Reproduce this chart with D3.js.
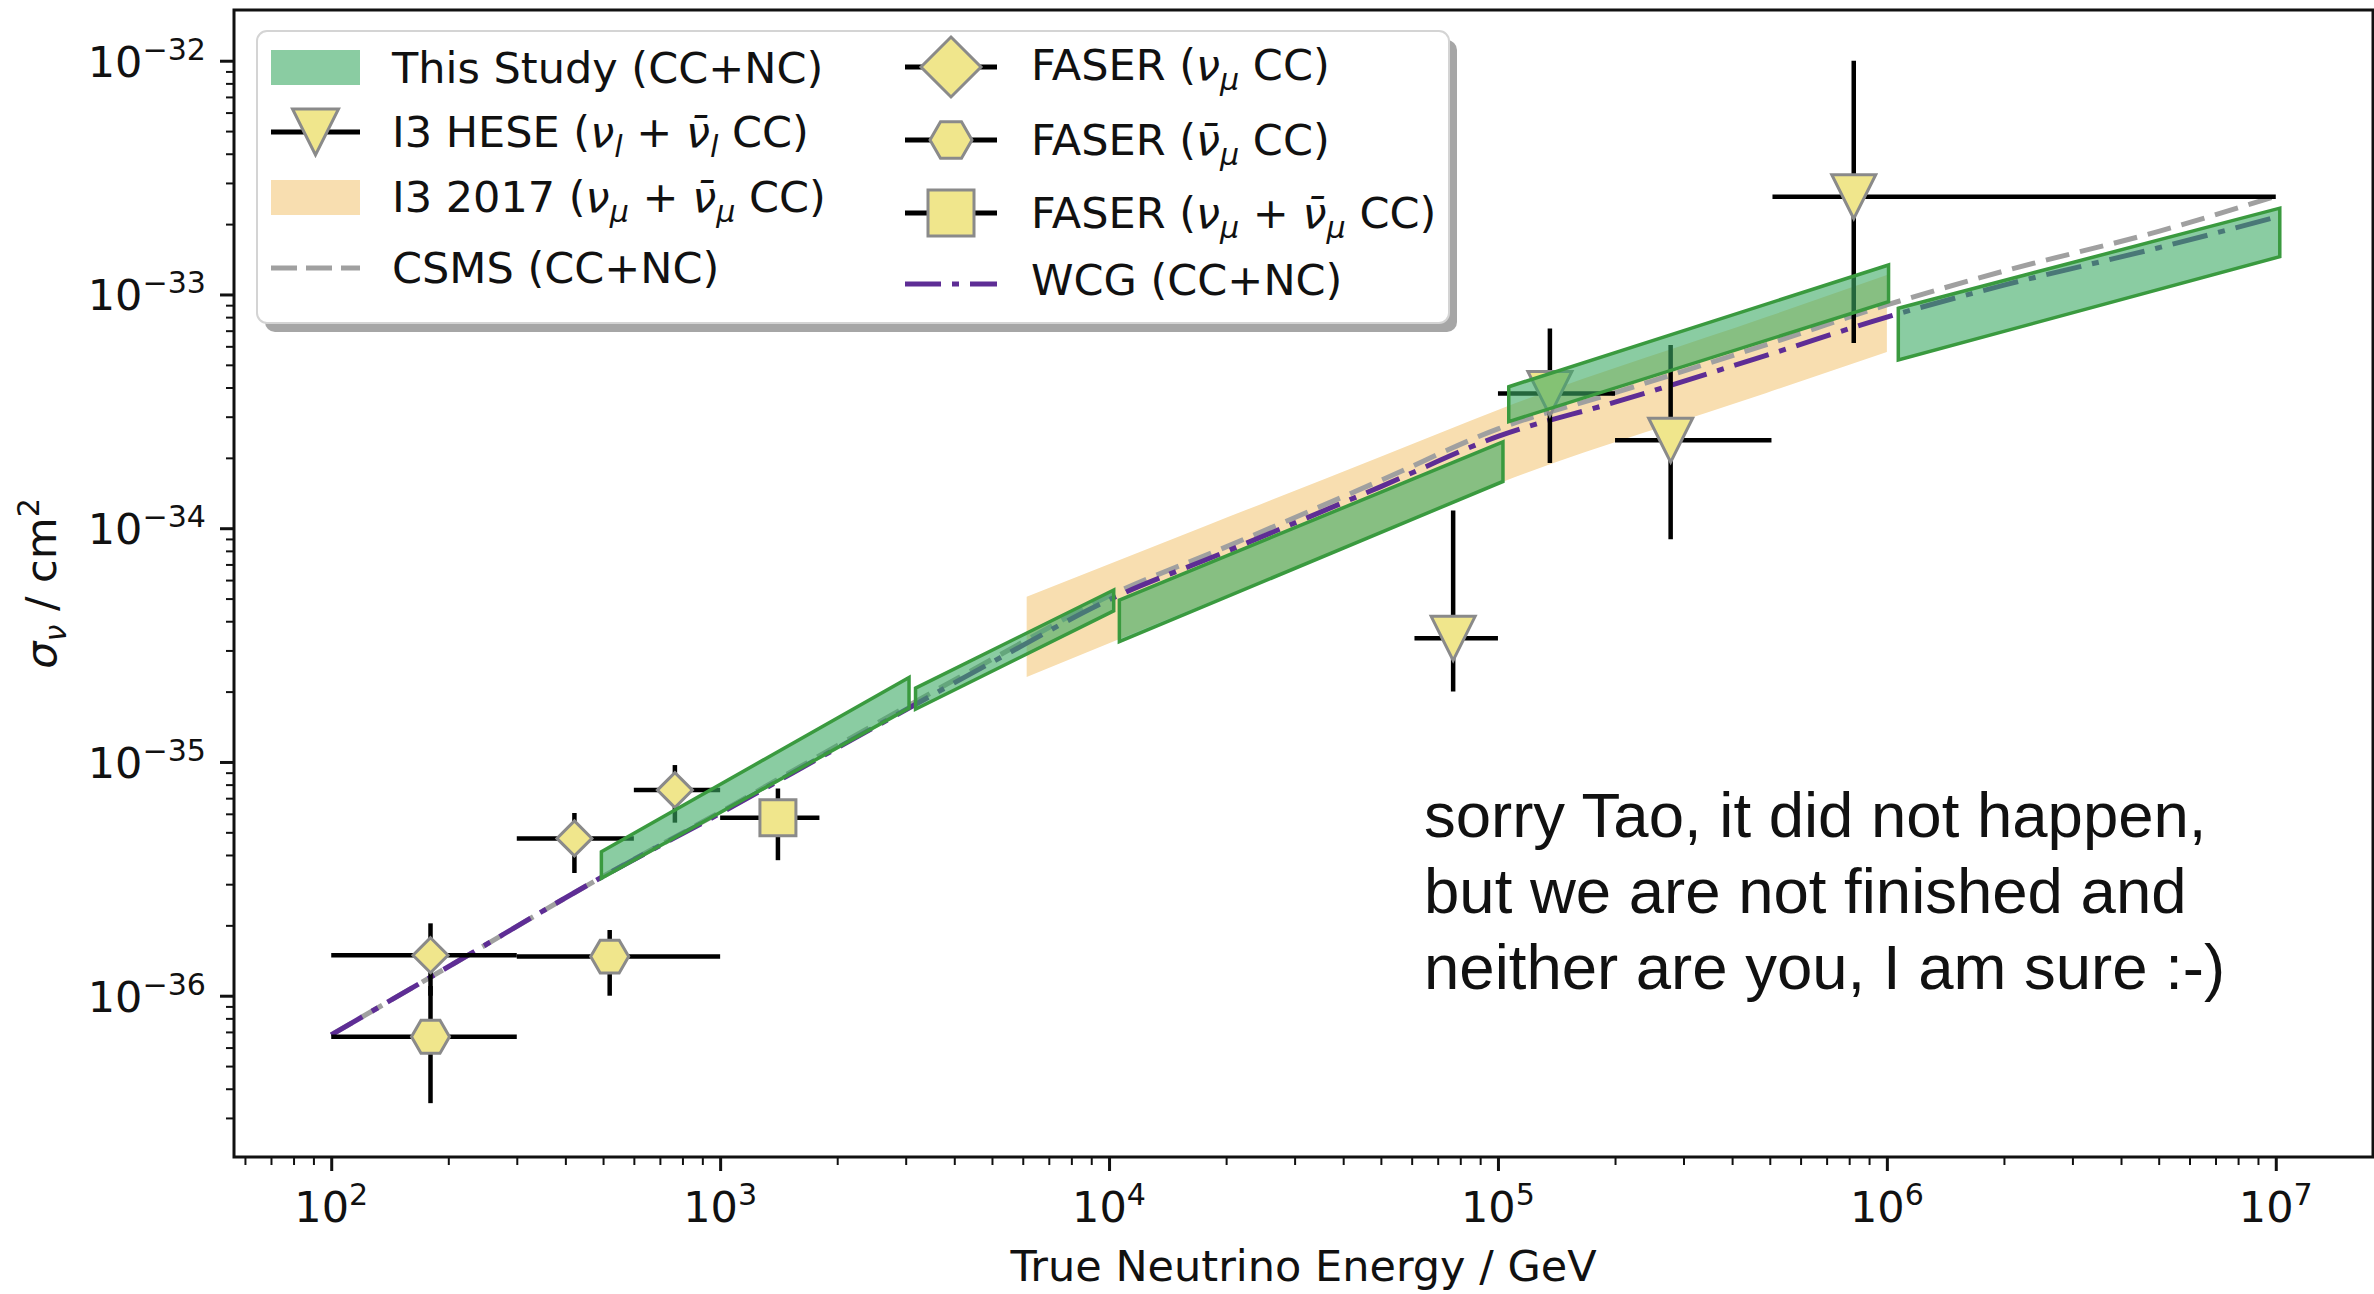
<!DOCTYPE html>
<html>
<head>
<meta charset="utf-8">
<script src="https://cdn.jsdelivr.net/npm/d3@7"></script>
<style>
  html, body { margin: 0; padding: 0; background: #fff; }
  svg { display: block; }
  text { font-family: "DejaVu Sans", sans-serif; fill: #111; }
</style>
</head>
<body>
<svg id="chart" width="2374" height="1294"></svg>
<script>
// ---------------- data ----------------
const xTickExponents = [2, 3, 4, 5, 6, 7];
const yTickExponents = [-36, -35, -34, -33, -32];

// This Study (CC+NC): one row per energy bin
// [E start, E end, sigma low @start, sigma high @start, sigma low @end, sigma high @end]
const studyBands = [
  [495,    3060,   3.18e-36, 4.13e-36, 1.70e-35, 2.30e-35],
  [3180,   10280,  1.68e-35, 2.07e-35, 4.43e-35, 5.44e-35],
  [10630,  1.03e5, 3.27e-35, 4.93e-35, 1.585e-34, 2.34e-34],
  [1.066e5, 1.01e6, 2.86e-34, 4.03e-34, 9.31e-34, 1.337e-33],
  [1.07e6, 1.024e7, 5.25e-34, 8.73e-34, 1.45e-33, 2.34e-33]
];

// IceCube 2017 (nu_mu + nubar_mu CC) band
const i3Energy = [6140, 17900, 49900, 1.03e5, 4.9e5, 1.0e6];
const i3Low    = [2.31e-35, 4.79e-35, 9.6e-35, 1.58e-34, 3.79e-34, 5.67e-34];
const i3High   = [5.09e-35, 1.03e-34, 2.02e-34, 3.27e-34, 8.0e-34, 1.21e-33];

// Model predictions
const modelEnergy = [100, 200, 500, 1e3, 2e3, 5e3, 1e4, 2e4, 5e4, 1e5, 2e5, 5e5, 1e6, 2e6, 5e6, 1e7];
const csmsSigma = [6.8e-37, 1.33e-36, 3.24e-36, 6.1e-36, 1.175e-35, 2.75e-35, 5.13e-35, 8.32e-35,
                   1.603e-34, 2.66e-34, 3.80e-34, 6.17e-34, 9.02e-34, 1.259e-33, 1.862e-33, 2.63e-33];
const wcgSigma  = [6.8e-37, 1.33e-36, 3.24e-36, 6.03e-36, 1.148e-35, 2.67e-35, 4.94e-35, 7.94e-35,
                   1.507e-34, 2.47e-34, 3.46e-34, 5.55e-34, 8.0e-34, 1.096e-33, 1.585e-33, 2.14e-33];

// IceCube HESE (nu_l + nubar_l CC)
const heseE     = [76700, 136000, 278000, 822000];
const heseELow  = [61000, 100000, 200000, 508000];
const heseEHigh = [100000, 200000, 505000, 1e7];
const heseSigma = [3.38e-35, 3.77e-34, 2.38e-34, 2.62e-33];
const heseLow   = [2.0e-35, 1.9e-34, 8.97e-35, 6.2e-34];
const heseHigh  = [1.19e-34, 7.16e-34, 6.08e-34, 1e-32];

// FASER (nu_mu CC)
const faserNuE     = [180, 422, 765];
const faserNuELow  = [100, 300, 600];
const faserNuEHigh = [300, 600, 1000];
const faserNuSigma = [1.49e-36, 4.71e-36, 7.58e-36];
const faserNuLow   = [1.0e-36, 3.35e-36, 5.5e-36];
const faserNuHigh  = [2.04e-36, 6.05e-36, 9.7e-36];

// FASER (nubar_mu CC)
const faserNubarE     = [180, 520];
const faserNubarELow  = [100, 300];
const faserNubarEHigh = [300, 1000];
const faserNubarSigma = [6.68e-37, 1.47e-36];
const faserNubarLow   = [3.47e-37, 1.0e-36];
const faserNubarHigh  = [1.1e-36, 1.91e-36];

// FASER (nu_mu + nubar_mu CC)
const faserSumE     = [1408];
const faserSumELow  = [1000];
const faserSumEHigh = [1800];
const faserSumSigma = [5.77e-36];
const faserSumLow   = [3.8e-36];
const faserSumHigh  = [7.7e-36];

const noteLines = [
  "sorry Tao, it did not happen,",
  "but we are not finished and",
  "neither are you, I am sure :-)"
];

// ---------------- styles ----------------
const C = {
  bandFill: "#3caa64", bandEdge: "#3a9a3f", i3: "#f8deb0",
  csms: "#a0a0a0", wcg: "#5e2d95", marker: "#f0e68c", markerEdge: "#8a8a8a"
};

const svg = d3.select("#chart");
const plot = { left: 234, right: 2373, top: 10, bottom: 1157 };

const x = d3.scaleLog().domain([10 ** 1.75, 10 ** 7.25]).range([plot.left, plot.right]);
const y = d3.scaleLog().domain([10 ** -36.69, 10 ** -31.783]).range([plot.bottom, plot.top]);

// text with italic / sub / superscript runs
function rich(sel, parts, fs) {
  let shift = 0;
  parts.forEach(p => {
    if (typeof p === "string") p = { t: p };
    const target = p.sub ? fs * 0.24 : p.sup ? -fs * 0.4 : 0;
    const ts = sel.append("tspan").attr("dy", target - shift).text(p.t);
    shift = target;
    if (p.sub || p.sup) ts.attr("font-size", fs * 0.7);
    if (p.it) ts.attr("font-style", "italic");
  });
  return sel;
}

const marker = {
  tri: (cx, cy, r) => `M${cx - r},${cy - r}L${cx + r},${cy - r}L${cx},${cy + r}Z`,
  diamond: (cx, cy, r) => `M${cx},${cy - r}L${cx + r},${cy}L${cx},${cy + r}L${cx - r},${cy}Z`,
  hex: (cx, cy, r) => d3.range(6).map(i => {
      const a = i * Math.PI / 3;
      return (i ? "L" : "M") + (cx + r * Math.cos(a)) + "," + (cy + r * Math.sin(a));
    }).join("") + "Z",
  square: (cx, cy, r) => `M${cx - r},${cy - r}h${2 * r}v${2 * r}h${-2 * r}Z`
};

// ---------------- I3 2017 band ----------------
const i3Data = i3Energy.map((E, i) => ({ E, lo: i3Low[i], hi: i3High[i] }));
svg.append("path").datum(i3Data)
  .attr("d", d3.area().x(d => x(d.E)).y0(d => y(d.lo)).y1(d => y(d.hi)).curve(d3.curveMonotoneX))
  .attr("fill", C.i3);

// ---------------- model curves ----------------
const modelLine = d3.line().x(d => x(d.E)).y(d => y(d.s)).curve(d3.curveMonotoneX);
svg.append("path").datum(modelEnergy.map((E, i) => ({ E, s: csmsSigma[i] })))
  .attr("d", modelLine).attr("fill", "none")
  .attr("stroke", C.csms).attr("stroke-width", 5).attr("stroke-dasharray", "24 11");
svg.append("path").datum(modelEnergy.map((E, i) => ({ E, s: wcgSigma[i] })))
  .attr("d", modelLine).attr("fill", "none")
  .attr("stroke", C.wcg).attr("stroke-width", 5).attr("stroke-dasharray", "36 11 7 11");

// ---------------- measurements with error bars ----------------
function series(E, El, Eh, s, sl, sh, shape, r) {
  const g = svg.append("g");
  const pts = E.map((e, i) => ({ e, el: El[i], eh: Eh[i], s: s[i], sl: sl[i], sh: sh[i] }));
  g.selectAll("line.h").data(pts).join("line")
    .attr("x1", d => x(d.el)).attr("x2", d => x(d.eh))
    .attr("y1", d => y(d.s)).attr("y2", d => y(d.s))
    .attr("stroke", "#000").attr("stroke-width", 4.5);
  g.selectAll("line.v").data(pts).join("line")
    .attr("x1", d => x(d.e)).attr("x2", d => x(d.e))
    .attr("y1", d => y(d.sl)).attr("y2", d => y(d.sh))
    .attr("stroke", "#000").attr("stroke-width", 4.5);
  g.selectAll("path").data(pts).join("path")
    .attr("d", d => marker[shape](x(d.e), y(d.s), r))
    .attr("fill", C.marker).attr("stroke", C.markerEdge).attr("stroke-width", 3);
}
series(faserNubarE, faserNubarELow, faserNubarEHigh, faserNubarSigma, faserNubarLow, faserNubarHigh, "hex", 19);
series(faserNuE, faserNuELow, faserNuEHigh, faserNuSigma, faserNuLow, faserNuHigh, "diamond", 17.5);
series(faserSumE, faserSumELow, faserSumEHigh, faserSumSigma, faserSumLow, faserSumHigh, "square", 18);
series(heseE, heseELow, heseEHigh, heseSigma, heseLow, heseHigh, "tri", 22);

// ---------------- This Study bands ----------------
const bandArea = d3.area().x(d => x(d.E)).y0(d => y(d.lo)).y1(d => y(d.hi));
svg.append("g").selectAll("path").data(studyBands).join("path")
  .attr("d", b => bandArea([{ E: b[0], lo: b[2], hi: b[3] }, { E: b[1], lo: b[4], hi: b[5] }]))
  .attr("fill", C.bandFill).attr("fill-opacity", 0.6)
  .attr("stroke", C.bandEdge).attr("stroke-width", 3.5);

// ---------------- axes ----------------
const majorX = xTickExponents.map(e => 10 ** e);
const minorX = [];
for (let k = 1; k <= 7; k++) for (let m = 2; m <= 9; m++) {
  const v = m * 10 ** k;
  if (v > x.domain()[0] && v < x.domain()[1]) minorX.push(v);
}
const majorY = yTickExponents.map(e => 10 ** e);
const minorY = [];
for (let k = -37; k <= -32; k++) for (let m = 2; m <= 9; m++) {
  const v = m * 10 ** k;
  if (v > y.domain()[0] && v < y.domain()[1]) minorY.push(v);
}

function styleAxis(g, w) {
  g.select(".domain").remove();
  g.selectAll("line").attr("stroke", "#111").attr("stroke-width", w);
  g.selectAll("text").remove();
}
svg.append("g").attr("transform", `translate(0,${plot.bottom})`)
  .call(d3.axisBottom(x).tickValues(majorX).tickSize(14)).call(g => styleAxis(g, 3));
svg.append("g").attr("transform", `translate(0,${plot.bottom})`)
  .call(d3.axisBottom(x).tickValues(minorX).tickSize(8)).call(g => styleAxis(g, 2));
svg.append("g").attr("transform", `translate(${plot.left},0)`)
  .call(d3.axisLeft(y).tickValues(majorY).tickSize(14)).call(g => styleAxis(g, 3));
svg.append("g").attr("transform", `translate(${plot.left},0)`)
  .call(d3.axisLeft(y).tickValues(minorY).tickSize(8)).call(g => styleAxis(g, 2));

const FS = 43;
xTickExponents.forEach(e => {
  rich(svg.append("text").attr("x", x(10 ** e)).attr("y", 1222)
    .attr("text-anchor", "middle").attr("font-size", FS), ["10", { t: String(e), sup: true }], FS);
});
yTickExponents.forEach(e => {
  rich(svg.append("text").attr("x", 206).attr("y", y(10 ** e) + 16)
    .attr("text-anchor", "end").attr("font-size", FS),
    ["10", { t: "\u2212" + String(-e), sup: true }], FS);
});

svg.append("text").attr("x", (plot.left + plot.right) / 2).attr("y", 1281)
  .attr("text-anchor", "middle").attr("font-size", FS).text("True Neutrino Energy / GeV");
rich(svg.append("text").attr("transform", `translate(56,${(plot.top + plot.bottom) / 2}) rotate(-90)`)
  .attr("text-anchor", "middle").attr("font-size", FS),
  [{ t: "\u03c3", it: true }, { t: "\u03bd", it: true, sub: true }, " / cm", { t: "2", sup: true }], FS);

// frame
svg.append("rect").attr("x", plot.left).attr("y", plot.top)
  .attr("width", plot.right - plot.left).attr("height", plot.bottom - plot.top)
  .attr("fill", "none").attr("stroke", "#111").attr("stroke-width", 3);

// ---------------- legend ----------------
const leg = svg.append("g");
leg.append("rect").attr("x", 265).attr("y", 40).attr("width", 1192).attr("height", 292)
  .attr("rx", 10).attr("fill", "#a6a6a6");
leg.append("rect").attr("x", 257).attr("y", 31).attr("width", 1192).attr("height", 292)
  .attr("rx", 10).attr("fill", "#fff").attr("stroke", "#d4d4d4").attr("stroke-width", 2);

const nu = { t: "\u03bd", it: true };
const nubar = { t: "\u03bd\u0304", it: true };
const subL = { t: "l", it: true, sub: true };
const subMu = { t: "\u03bc", it: true, sub: true };

const legendItems = [
  { col: 0, cy: 67, base: 83, kind: "patch", color: C.bandFill, op: 0.6, label: ["This Study (CC+NC)"] },
  { col: 0, cy: 132, base: 147, kind: "marker", shape: "tri", r: 23, label: ["I3 HESE (", nu, subL, " + ", nubar, subL, " CC)"] },
  { col: 0, cy: 197, base: 212, kind: "patch", color: C.i3, op: 1, label: ["I3 2017 (", nu, subMu, " + ", nubar, subMu, " CC)"] },
  { col: 0, cy: 268, base: 283, kind: "line", color: C.csms, dash: "26 9", label: ["CSMS (CC+NC)"] },
  { col: 1, cy: 67, base: 80, kind: "marker", shape: "diamond", r: 30, label: ["FASER (", nu, subMu, " CC)"] },
  { col: 1, cy: 140, base: 155, kind: "marker", shape: "hex", r: 21, label: ["FASER (", nubar, subMu, " CC)"] },
  { col: 1, cy: 213, base: 228, kind: "marker", shape: "square", r: 23, label: ["FASER (", nu, subMu, " + ", nubar, subMu, " CC)"] },
  { col: 1, cy: 284, base: 295, kind: "line", color: C.wcg, dash: "36 11 7 11", label: ["WCG (CC+NC)"] }
];
const cols = [{ h0: 271, h1: 360, tx: 392 }, { h0: 905, h1: 997, tx: 1031 }];

legendItems.forEach(it => {
  const c = cols[it.col];
  const mid = (c.h0 + c.h1) / 2;
  if (it.kind === "patch") {
    leg.append("rect").attr("x", c.h0).attr("y", it.cy - 17).attr("width", c.h1 - c.h0).attr("height", 35)
      .attr("fill", it.color).attr("fill-opacity", it.op);
  } else if (it.kind === "line") {
    leg.append("line").attr("x1", c.h0).attr("x2", c.h1).attr("y1", it.cy).attr("y2", it.cy)
      .attr("stroke", it.color).attr("stroke-width", 5).attr("stroke-dasharray", it.dash);
  } else {
    leg.append("line").attr("x1", c.h0).attr("x2", c.h1).attr("y1", it.cy).attr("y2", it.cy)
      .attr("stroke", "#000").attr("stroke-width", 5);
    leg.append("path").attr("d", marker[it.shape](mid, it.cy, it.r))
      .attr("fill", C.marker).attr("stroke", C.markerEdge).attr("stroke-width", 3);
  }
  rich(leg.append("text").attr("x", c.tx).attr("y", it.base).attr("font-size", FS), it.label, FS);
});

// ---------------- note ----------------
svg.append("g").selectAll("text").data(noteLines).join("text")
  .attr("x", 1424).attr("y", (d, i) => 837 + i * 76)
  .style("font-family", "'Liberation Sans', Arial, sans-serif")
  .attr("font-size", 63.5).attr("fill", "#000")
  .text(d => d);
</script>
</body>
</html>
